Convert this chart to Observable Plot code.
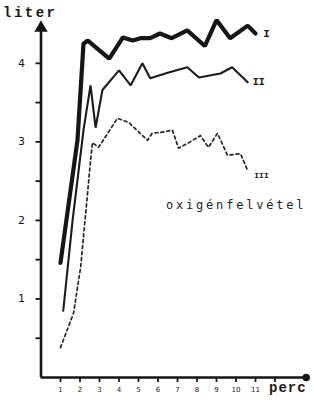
<!DOCTYPE html>
<html><head><meta charset="utf-8">
<script src="https://cdn.jsdelivr.net/npm/d3@7"></script>
<script src="https://cdn.jsdelivr.net/npm/@observablehq/plot@0.6"></script>
<style>
body{margin:0;background:#fff;}
#wrap{position:relative;width:314px;height:402px;overflow:hidden;}
.lbl{position:absolute;font-family:"Liberation Mono",monospace;font-weight:bold;color:#1a1a1a;line-height:16px;white-space:nowrap;}
.note{position:absolute;font-family:"DejaVu Sans Mono",monospace;color:#222;white-space:nowrap;line-height:14px;}
g[aria-label="x-axis tick label"], g[aria-label="x-axis"] text{font-size:7px;}
g[aria-label="y-axis tick label"], g[aria-label="y-axis"] text{font-size:11px;}
g[aria-label="x-axis tick"], g[aria-label="y-axis tick"], g[aria-label="x-axis"] line, g[aria-label="y-axis"] line{stroke-width:1.8px;}
</style></head><body>
<div id="wrap"><div id="chart"></div>
<span class="lbl" style="left:3px;top:5px;font-size:14px;letter-spacing:2.5px">liter</span>
<span class="lbl" style="left:269px;top:380px;font-size:14px;letter-spacing:1px">perc</span>
<span class="note" style="left:166px;top:198px;font-size:12px;letter-spacing:2.8px">oxigénfelvétel</span>
</div>
<script>
// Series I (thick)
const xI = [1.0, 1.87, 2.18, 2.4, 3.5, 4.2, 4.7, 5.1, 5.6, 6.1, 6.7, 7.5, 8.4, 9.0, 9.7, 10.6, 11.0];
const yI = [1.46, 3.02, 4.25, 4.29, 4.06, 4.33, 4.29, 4.32, 4.32, 4.38, 4.32, 4.42, 4.22, 4.55, 4.32, 4.48, 4.38];
// Series II (medium)
const xII = [1.14, 1.62, 2.18, 2.54, 2.8, 3.15, 4.0, 4.6, 5.2, 5.6, 6.5, 7.5, 8.1, 9.2, 9.8, 10.6];
const yII = [0.85, 2.0, 3.15, 3.72, 3.18, 3.66, 3.91, 3.72, 4.0, 3.81, 3.88, 3.95, 3.82, 3.87, 3.95, 3.76];
// Series III (dashed)
const xIII = [1.0, 1.67, 2.03, 2.33, 2.54, 2.64, 2.95, 3.92, 4.49, 5.46, 5.7, 6.13, 6.74, 7.05, 7.51, 8.18, 8.59, 9.05, 9.56, 10.23, 10.59];
const yIII = [0.38, 0.82, 1.40, 2.19, 2.76, 2.99, 2.93, 3.30, 3.25, 3.02, 3.11, 3.12, 3.15, 2.92, 2.98, 3.08, 2.93, 3.11, 2.83, 2.85, 2.64];
const seriesLabels = ["I", "II", "III"];
const xTicks = [1,2,3,4,5,6,7,8,9,10,11,12];
const xTickLabels = ["1","2","3","4","5","6","7","8","9","10","11",""];
const yTicks = [0.5,1,1.5,2,2.5,3,3.5,4];
const yTickLabels = ["","1","","2","","3","","4"];

const xMax = 13.6, yTop = 4.45;
const ink = "#161616";
const mk = (xs, ys) => xs.map((x, i) => ({x, y: ys[i]}));
const dI = mk(xI, yI), dII = mk(xII, yII), dIII = mk(xIII, yIII);

const chart = Plot.plot({
  width: 314, height: 402,
  marginLeft: 40.5, marginRight: 8.3, marginTop: 0, marginBottom: 25,
  style: {background: "transparent", color: ink, fontFamily: "DejaVu Sans, sans-serif"},
  x: {domain: [0, xMax], ticks: xTicks, tickSize: 5, tickPadding: 5,
      tickFormat: d => xTickLabels[xTicks.indexOf(d)], label: null},
  y: {domain: [0, 4.8], ticks: yTicks, tickSize: 5, tickPadding: 11,
      tickFormat: d => yTickLabels[yTicks.indexOf(d)], label: null},
  marks: [
    Plot.ruleX([0], {y1: 0, y2: yTop, stroke: ink, strokeWidth: 2.6}),
    Plot.ruleY([0], {x1: 0, x2: xMax, stroke: ink, strokeWidth: 2.6}),
    Plot.dot([0], {x: 0, y: yTop, symbol: "triangle", r: 4, fill: ink, stroke: ink}),
    Plot.dot([0], {x: xMax, y: 0, r: 3, fill: ink, stroke: ink}),
    Plot.line(dIII, {x: "x", y: "y", stroke: "#262626", strokeWidth: 1.7, strokeDasharray: "3,3"}),
    Plot.line(dII, {x: "x", y: "y", stroke: "#1c1c1c", strokeWidth: 2.1, strokeLinejoin: "miter"}),
    Plot.line(dI, {x: "x", y: "y", stroke: ink, strokeWidth: 4.2, strokeLinejoin: "miter"}),
    Plot.text([dI[dI.length-1]], {x: "x", y: "y", text: [seriesLabels[0]], dx: 11, fontSize: 11, fontWeight: "bold", fontFamily: "Liberation Mono"}),
    Plot.text([dII[dII.length-1]], {x: "x", y: "y", text: [seriesLabels[1]], dx: 11, fontSize: 10, fontWeight: "bold", fontFamily: "Liberation Mono"}),
    Plot.text([dIII[dIII.length-1]], {x: "x", y: "y", text: [seriesLabels[2]], dx: 14, dy: 5, fontSize: 8, fontWeight: "bold", fontFamily: "Liberation Mono"})
  ]
});
document.getElementById("chart").appendChild(chart);
</script>
</body></html>
